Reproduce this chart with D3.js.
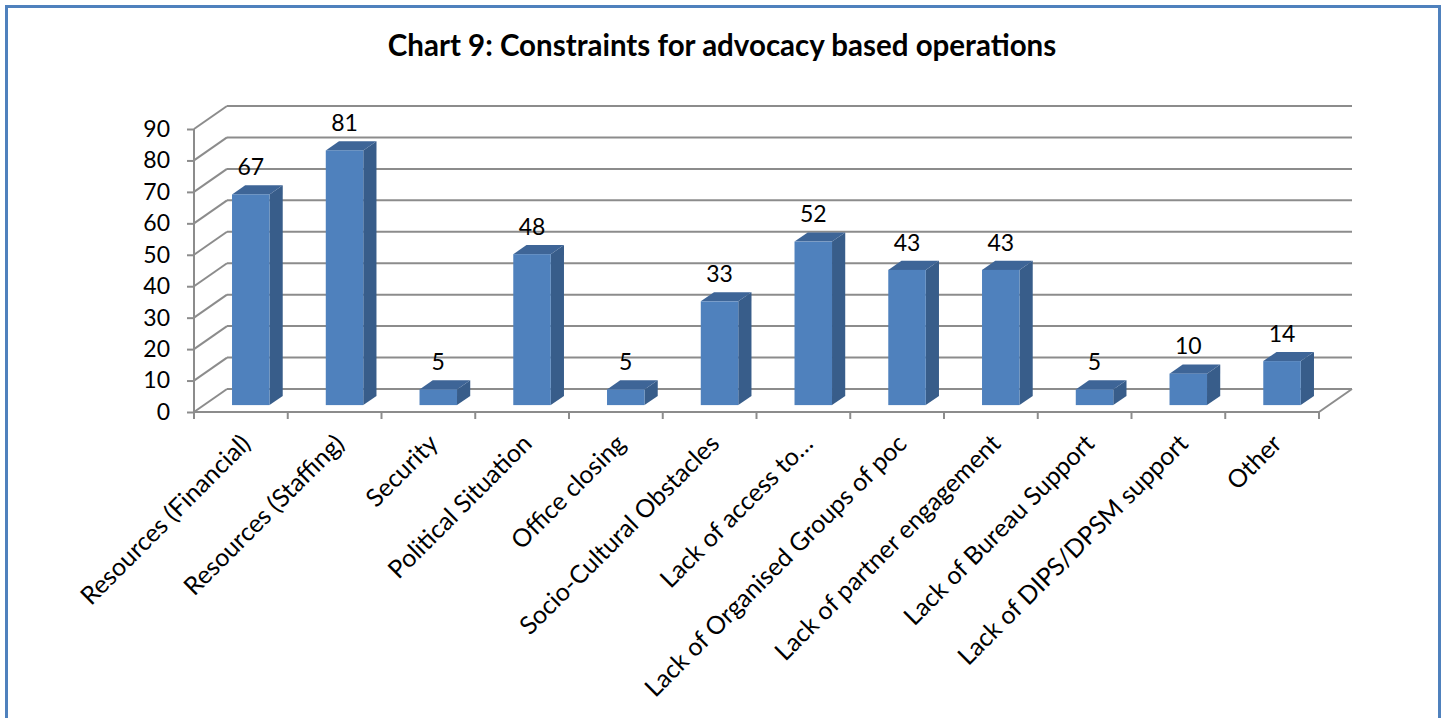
<!DOCTYPE html>
<html>
<head>
<meta charset="utf-8">
<script src="https://cdn.jsdelivr.net/npm/d3@7"></script>
<style>
  body { margin: 0; background: #fff; }
  text { font-family: Lato, "Open Sans", sans-serif; fill: #000; }
</style>
</head>
<body>
<div id="chart"></div>
<script>
// chart data
var categories = ["Resources (Financial)", "Resources (Staffing)", "Security", "Political Situation",
    "Office closing", "Socio-Cultural Obstacles", "Lack of access to…", "Lack of Organised Groups of poc",
    "Lack of partner engagement", "Lack of Bureau Support", "Lack of DIPS/DPSM support", "Other"];
var values = [67, 81, 5, 48, 5, 33, 52, 43, 43, 5, 10, 14];
var yTicks = [0, 10, 20, 30, 40, 50, 60, 70, 80, 90];
var title = "Chart 9: Constraints for advocacy based operations";

var W = 1447, H = 718;
var svg = d3.select("#chart").append("svg")
    .attr("width", W).attr("height", H);

// outer frame
svg.append("rect")
    .attr("x", 6.5).attr("y", 6.5)
    .attr("width", 1433).attr("height", 730)
    .attr("fill", "#fff").attr("stroke", "#4f81bd").attr("stroke-width", 3);

svg.append("text")
    .attr("x", 722).attr("y", 56)
    .attr("text-anchor", "middle")
    .attr("font-size", 29.5).attr("font-weight", "bold")
    .text(title);

// front plane scales, depth offset to back wall
var x = d3.scaleBand().domain(categories).range([194, 1319]);
var y = d3.scaleLinear().domain([0, 90]).range([412, 129]);
var dx = 33, dy = -23;
var f0 = 0.3, fd = 0.4;          // bar front depth and bar depth (fractions)
var gridColor = "#8c8c8c";

// back wall gridlines
svg.append("g").selectAll("line")
    .data(yTicks).enter().append("line")
    .attr("x1", 194 + dx).attr("x2", 1319 + dx)
    .attr("y1", function (d) { return y(d) + dy; })
    .attr("y2", function (d) { return y(d) + dy; })
    .attr("stroke", gridColor).attr("stroke-width", 2);

// side wall diagonals
svg.append("g").selectAll("line")
    .data(yTicks).enter().append("line")
    .attr("x1", 194).attr("x2", 194 + dx)
    .attr("y1", function (d) { return y(d); })
    .attr("y2", function (d) { return y(d) + dy; })
    .attr("stroke", gridColor).attr("stroke-width", 2);

// floor right edge
svg.append("line")
    .attr("x1", 1319).attr("y1", y(0)).attr("x2", 1319 + dx).attr("y2", y(0) + dy)
    .attr("stroke", gridColor).attr("stroke-width", 2);

// y axis
var yAxis = svg.append("g")
    .attr("transform", "translate(194,0)")
    .call(d3.axisLeft(y).tickValues(yTicks).tickSize(7).tickPadding(17));
yAxis.selectAll("text").attr("font-size", 23).style("font-family", "Lato, sans-serif").attr("fill", "#000");
yAxis.selectAll("line, path").attr("stroke", gridColor).attr("stroke-width", 2);
yAxis.select(".domain").attr("d", "M0," + y(90) + "V" + y(0));

// x axis line and ticks at band edges
svg.append("line")
    .attr("x1", 194).attr("x2", 1319).attr("y1", y(0)).attr("y2", y(0))
    .attr("stroke", gridColor).attr("stroke-width", 2);
var edges = categories.map(function (c) { return x(c); }).concat([x.range()[1]]);
svg.append("g").selectAll("line")
    .data(edges).enter().append("line")
    .attr("x1", function (d) { return d; }).attr("x2", function (d) { return d; })
    .attr("y1", y(0)).attr("y2", y(0) + 7)
    .attr("stroke", gridColor).attr("stroke-width", 2);

// bars
var bw = x.bandwidth() * 0.4;
var sx = dx * fd, sy = dy * fd;
var bars = svg.append("g").selectAll("g")
    .data(values).enter().append("g");

function bx(d, i) { return x(categories[i]) + (x.bandwidth() - bw) / 2 + dx * f0; }
function by(v) { return y(v) + dy * f0; }

bars.append("path") // side
    .attr("d", function (d, i) {
        var l = bx(d, i) + bw, t = by(d), b = by(0);
        return "M" + l + "," + t + "L" + (l + sx) + "," + (t + sy) + "L" + (l + sx) + "," + (b + sy) + "L" + l + "," + b + "Z";
    })
    .attr("fill", "#385d8a");
bars.append("path") // top
    .attr("d", function (d, i) {
        var l = bx(d, i), t = by(d);
        return "M" + l + "," + t + "L" + (l + sx) + "," + (t + sy) + "L" + (l + bw + sx) + "," + (t + sy) + "L" + (l + bw) + "," + t + "Z";
    })
    .attr("fill", "#3e6597");
bars.append("rect") // front
    .attr("x", bx)
    .attr("y", function (d) { return by(d); })
    .attr("width", bw)
    .attr("height", function (d) { return by(0) - by(d); })
    .attr("fill", "#4f81bd");

// value labels
bars.append("text")
    .attr("x", function (d, i) { return bx(d, i) + bw / 2; })
    .attr("y", function (d) { return by(d) + sy - 10; })
    .attr("text-anchor", "middle")
    .attr("font-size", 23)
    .text(function (d) { return d; });

// category labels
svg.append("g").selectAll("text")
    .data(categories).enter().append("text")
    .attr("transform", function (d) {
        return "translate(" + (x(d) + x.bandwidth() / 2 + 5) + "," + (y(0) + 27) + ") rotate(-45)";
    })
    .attr("text-anchor", "end")
    .attr("dy", "0.35em")
    .attr("font-size", 25)
    .text(function (d) { return d; });
</script>
</body>
</html>
